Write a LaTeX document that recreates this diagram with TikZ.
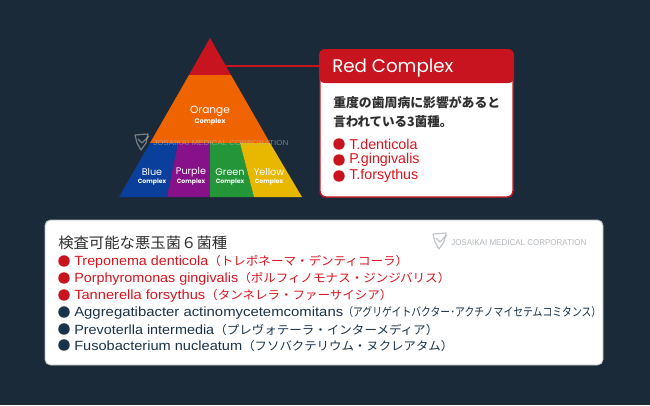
\documentclass[tikz,border=0pt]{standalone}
\usepackage{graphicx}
\usepackage{fontspec}
\setmainfont{Liberation Sans}
\newfontfamily\cjk{Noto Sans CJK JP}
\newfontfamily\geo{Poppins}
\definecolor{bgc}{HTML}{1B2A38}
\definecolor{redc}{HTML}{C8141E}
\definecolor{orangec}{HTML}{F06400}
\definecolor{bluec}{HTML}{0A3F9C}
\definecolor{purplec}{HTML}{861188}
\definecolor{greenc}{HTML}{23963A}
\definecolor{yellowc}{HTML}{E8B800}
\definecolor{navyc}{HTML}{1B3348}
\definecolor{textc}{HTML}{2E2E2E}
\definecolor{linec}{HTML}{D9141E}
\definecolor{markc}{HTML}{B4B8BC}
\newcommand{\fs}[1]{\fontsize{#1}{#1}\selectfont}
\newcommand{\fit}[2]{\resizebox{#1\dimexpr0.75pt\relax}{\height}{#2}}
\newcommand{\tworow}[4]{\fit{#1}{#2}\fit{#3}{\cjk\fs{8.9}#4}}
\tikzset{
  x=0.75pt,y=-0.75pt,
  big/.style={text=white,inner sep=0,font=\geo\fs{7.2}},
  small/.style={text=white,inner sep=0,font=\geo\bfseries\fs{4.6}},
  dotmark/.style={circle,inner sep=0,minimum size=8.6pt},
  rl/.style={anchor=west,inner sep=0,text=linec,font=\fs{10}},
  ll/.style={anchor=west,inner sep=0,text=navyc,font=\fs{10}},
  jp/.style={anchor=west,inner sep=0,text=textc,font=\cjk\bfseries\fs{9.6}},
  wm/.style={anchor=west,inner sep=0,font=\fs{5.4}},
}
\newcommand{\logomark}[4]{% x y colour opacity
  \begin{scope}[shift={(#1,#2)},draw=#3,line width=0.9pt,opacity=#4,line join=round]
    \draw (0,0) -- (13,-1) -- (11,8) -- (6,15) -- (2,8) -- cycle;
    \draw (3,4) -- (7,8) -- (14,1);
  \end{scope}}
\begin{document}
\begin{tikzpicture}
\fill[bgc] (0,0) rectangle (650,405);
\useasboundingbox (0,0) rectangle (650,405);
% pyramid
\fill[redc] (210,38) -- (231,75) -- (189,75) -- cycle;
\fill[orangec] (189,75) -- (231,75) -- (270,143) -- (150,143) -- cycle;
\fill[bluec] (150,143) -- (178,143) -- (167,197) -- (119,197) -- cycle;
\fill[purplec] (178,143) -- (210,143) -- (210,197) -- (167,197) -- cycle;
\fill[greenc] (210,143) -- (240,143) -- (254,197) -- (210,197) -- cycle;
\fill[yellowc] (240,143) -- (270,143) -- (302,197) -- (254,197) -- cycle;
\coordinate (tip) at (226,66);
\node[big,font=\geo\fs{7.9}] (orange) at (210,111) {Orange};
\node[small,font=\geo\bfseries\fs{5}] (orangeb) at (210,122) {Complex};
\node[big] (blue) at (152,172) {Blue};
\node[small] (blueb) at (152,182) {Complex};
\node[big] (purple) at (191,172) {Purple};
\node[small] (purpleb) at (191,182) {Complex};
\node[big] (green) at (230,172) {Green};
\node[small] (greenb) at (230,182) {Complex};
\node[big] (yellow) at (269,172) {Yellow};
\node[small] (yellowb) at (269,182) {Complex};
% watermark on pyramid
\logomark{135}{135}{markc}{0.6}
\node[wm,text=markc,opacity=0.6] (wma) at (153,143) {\fit{135}{JOSAIKAI MEDICAL CORPORATION}};
% red box
\draw[redc,line width=1.1pt,fill=white,rounded corners=4.5pt] (320,50) rectangle (513,197);
\fill[redc,rounded corners=4.5pt] (319,49) -- (514,49) -- (514,83) -- (319,83) -- cycle;
\coordinate (boxl) at (319,66);
\draw[redc,line width=1.2pt] (tip) -- (boxl);
\node[anchor=west,inner sep=0,text=white,font=\geo\fs{13.7}] (rc) at (332,68) {Red Complex};
\node[jp,text=textc] (r1) at (333,103) {\fit{167}{重度の歯周病に影響があると}};
\node[jp,text=textc] (r2) at (333,122) {\fit{119}{言われている3菌種。}};
\foreach \n/\y/\t in {a/144/T.denticola,b/160/P.gingivalis,c/176/T.forsythus}{
  \node[dotmark,fill=redc] (d\n) at (339,\y) {};
  \node[rl,font=\fs{10.7}] (t\n) at (349,\y) {\t};
}
% lower panel
\draw[markc,line width=0.6pt,fill=white,rounded corners=4pt] (45,220) rectangle (603,365);
\logomark{433}{234}{markc}{0.8}
\node[wm,text=markc,font=\fs{6.4}] (wmb) at (451,243) {\fit{135}{JOSAIKAI MEDICAL CORPORATION}};
\node[jp,text=textc,font=\cjk\fs{11.2}] (head) at (58,243) {\fit{169}{検査可能な悪玉菌６菌種}};
\foreach \n/\y in {1/261,2/278,3/295}{\node[dotmark,fill=redc] (p\n) at (64,\y) {};}
\foreach \n/\y in {4/312,5/329,6/345}{\node[dotmark,fill=navyc] (p\n) at (64,\y) {};}
\node[rl] (l1) at (74,262) {\tworow{134}{Treponema denticola}{200}{（トレポネーマ・デンティコーラ）}};
\node[rl] (l2) at (74,279) {\tworow{164}{Porphyromonas gingivalis}{212}{（ポルフィノモナス・ジンジバリス）}};
\node[rl] (l3) at (74,296) {\tworow{131}{Tannerella forsythus}{187}{（タンネレラ・ファーサイシア）}};
\node[ll] (l4) at (74,313) {\tworow{269}{Aggregatibacter actinomycetemcomitans}{258}{（アグリゲイトバクター･アクチノマイセテムコミタンス）}};
\node[ll] (l5) at (74,330) {\tworow{140}{Prevoterlla intermedia}{224}{（プレヴォテーラ・インターメディア）}};
\node[ll] (l6) at (74,346) {\tworow{168}{Fusobacterium nucleatum}{211}{（フソバクテリウム・ヌクレアタム）}};
\end{tikzpicture}
\end{document}
